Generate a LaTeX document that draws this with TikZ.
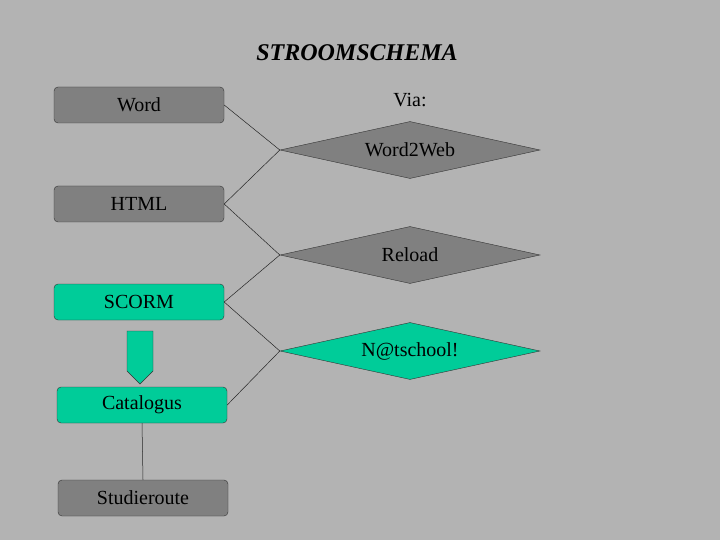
\documentclass[tikz,border=0pt]{standalone}
\usepackage{fontspec}
\setmainfont{Liberation Serif}
\usetikzlibrary{shapes.geometric,shapes.arrows}
\definecolor{bg}{HTML}{B3B3B3}
\definecolor{dk}{HTML}{808080}
\definecolor{gr}{HTML}{00CC99}
\begin{document}
\begin{tikzpicture}[x=1pt,y=-1pt,
 box/.style={draw=black!80,rounded corners=4pt,minimum width=170pt,minimum height=36pt,font=\fontsize{20}{22}\selectfont,inner sep=0pt},
 dia/.style={draw=black!80,diamond,aspect=4.6,minimum width=260pt,minimum height=57pt,inner sep=0pt},
 ln/.style={draw=black!85,line width=0.5pt}]
\fill[bg] (0,0) rectangle (720,540);
\node[font=\fontsize{24}{26}\selectfont\bfseries\itshape] (t) at (357,53) {STROOMSCHEMA};
\node[font=\fontsize{20}{22}\selectfont] (via) at (410,100) {Via:};
\node[box,fill=dk] (w) at (139,105) {Word};
\node[box,fill=dk] (h) at (139,204) {HTML};
\node[box,fill=gr] (s) at (139,302) {SCORM};
\node[box,fill=gr] (c) at (142,405) {Catalogus};
\node[box,fill=dk] (st) at (143,498) {Studieroute};
\node[dia,fill=dk] (d1) at (410,150) {};
\node[font=\fontsize{20}{22}\selectfont] at (410,150) {Word2Web};
\node[dia,fill=dk] (d2) at (410,255) {};
\node[font=\fontsize{20}{22}\selectfont] at (410,255) {Reload};
\node[dia,fill=gr] (d3) at (410,351) {};
\node[font=\fontsize{20}{22}\selectfont] at (410,351) {N@tschool!};
\draw[ln] (w.east) -- (d1.west);
\draw[ln] (h.east) -- (d1.west);
\draw[ln] (h.east) -- (d2.west);
\draw[ln] (s.east) -- (d2.west);
\draw[ln] (s.east) -- (d3.west);
\draw[ln] (c.east) -- (d3.west);
\draw[ln] (c.south) -- (st.north);
\node[single arrow,draw=black!80,fill=gr,rotate=-90,minimum width=26pt,single arrow head extend=0pt,minimum height=53pt,inner sep=7pt] (ar) at (140,351) {};
\end{tikzpicture}
\end{document}
